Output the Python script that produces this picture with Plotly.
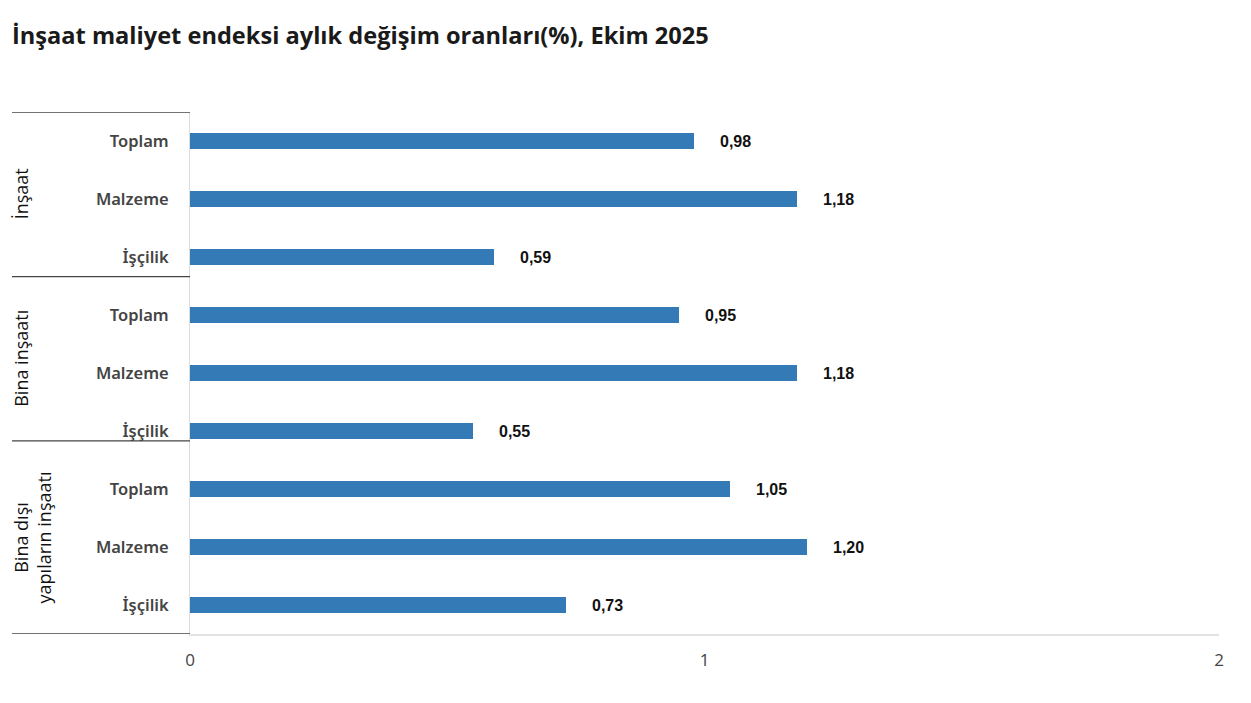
import plotly.graph_objects as go

# İnşaat maliyet endeksi, Ekim 2025 - aylık değişim (%)
groups = ["İnşaat", "Bina inşaatı", "Bina dışı<br>yapıların inşaatı"]
subcats = ["Toplam", "Malzeme", "İşçilik"]
insaat = [0.98, 1.18, 0.59]
bina = [0.95, 1.18, 0.55]
bina_disi = [1.05, 1.20, 0.73]
x_ticks = [0, 1, 2]

values = insaat + bina + bina_disi
labels = subcats * len(groups)
rows = list(range(len(values)))
text = [f"{v:.2f}".replace(".", ",") for v in values]

# page has an 8px body margin, so the figure is a bit smaller than the window
OFF = 8
FW, FH = 1251 - OFF, 703 - OFF
# plot area edges, in page pixels
X0, X1, Y0, Y1 = 190, 1219, 112, 634
L, R, T, B = X0 - OFF, FW - (X1 - OFF), Y0 - OFF, FH - (Y1 - OFF)
W = X1 - X0


def px(x):
    return (x - X0) / W


# where the group separators sit on the category axis
bounds = [-0.5, 2.34, 5.17, 8.5]
BAR = "#337ab7"

fig = go.Figure()
fig.add_trace(go.Bar(
    x=values, y=rows, orientation="h", width=0.28,
    marker=dict(color=BAR, line=dict(width=0)),
    hoverinfo="x+y",
))

for v, r, t in zip(values, rows, text):
    fig.add_annotation(x=v, y=r, text=f"<b>{t}</b>", showarrow=False,
                       xanchor="left", xshift=24,
                       font=dict(family="Liberation Sans, Arial", size=16, color="#111"))

# group labels + separators on the left
for i, g in enumerate(groups):
    mid = (bounds[i] + bounds[i + 1]) / 2
    fig.add_annotation(xref="paper", x=px(32 if "<br>" in g else 21), y=mid, text=g,
                       textangle=-90, showarrow=False, xanchor="center", yanchor="middle",
                       font=dict(family="Open Sans", size=18, color="#111"))
for b in bounds:
    fig.add_shape(type="line", xref="paper", x0=px(12), x1=0, y0=b, y1=b,
                  line=dict(color="#444", width=1.3))

fig.update_layout(
    width=FW, height=FH,
    margin=dict(l=L, r=R, t=T, b=B),
    paper_bgcolor="white", plot_bgcolor="white",
    showlegend=False, bargap=0,
    title=dict(text="İnşaat maliyet endeksi aylık değişim oranları(%), Ekim 2025",
               x=(12 - OFF) / FW, xanchor="left", y=1 - (36 - OFF) / FH, yanchor="middle",
               font=dict(family="Open Sans", size=23.6, color="#1a1a1a", weight=700)),
    font=dict(family="Open Sans"),
)
fig.update_xaxes(range=[0, 2], tickvals=x_ticks, ticktext=[str(t) for t in x_ticks],
                 showgrid=False, zeroline=False, showline=True, linecolor="#e3e3e3",
                 linewidth=1.5, ticks="", ticklabelstandoff=10,
                 tickfont=dict(size=17, color="#444"))
fig.update_yaxes(range=[8.5, -0.5], tickvals=rows, ticktext=labels,
                 showgrid=False, zeroline=False, showline=True, linecolor="#dcdcdc",
                 linewidth=1, ticks="", ticklabelstandoff=17,
                 tickfont=dict(family="Noto Sans", size=16.5, color="#444", weight=600))

fig.write_html("out.html")
